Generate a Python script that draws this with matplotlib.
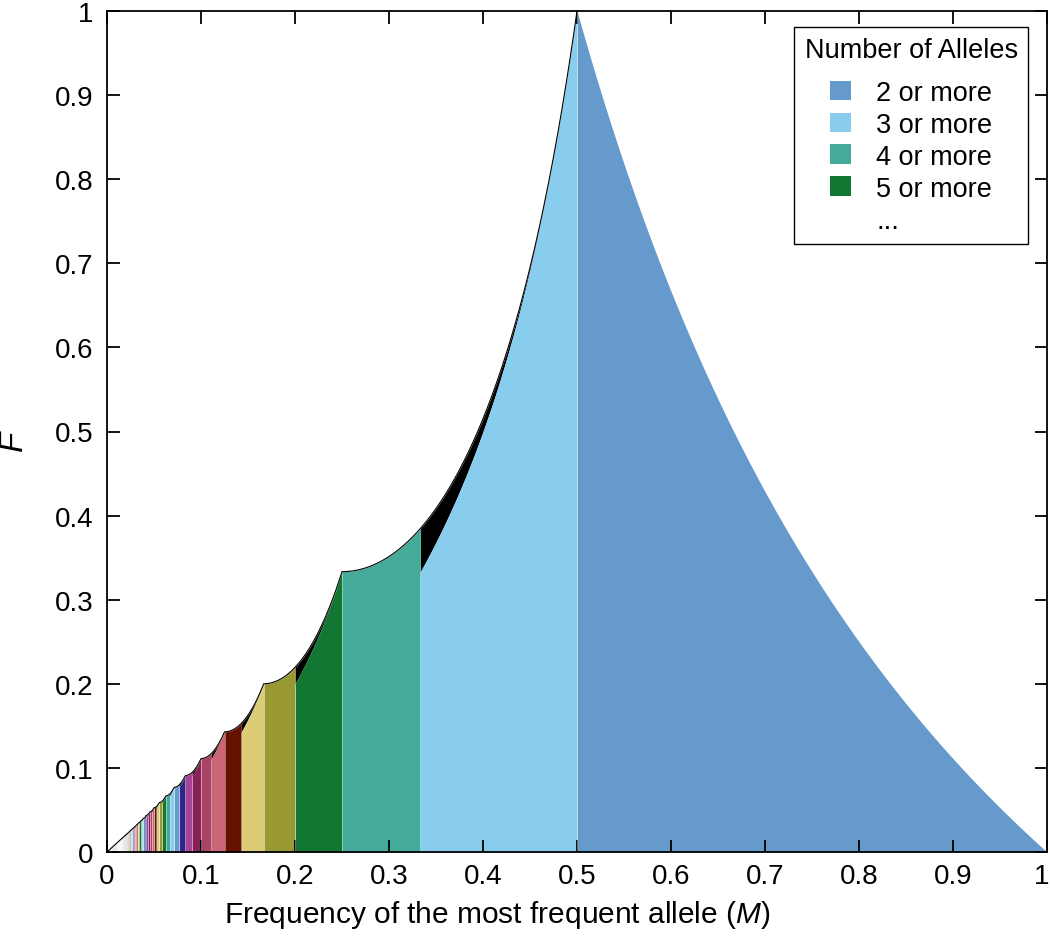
import numpy as np
import matplotlib
matplotlib.use("Agg")
import matplotlib.pyplot as plt
import matplotlib.transforms as mtransforms
from matplotlib.patches import Patch

plt.rcParams['font.family'] = ['Liberation Sans', 'DejaVu Sans']
plt.rcParams['mathtext.fontset'] = 'custom'
plt.rcParams['mathtext.rm'] = 'Liberation Sans'
plt.rcParams['mathtext.it'] = 'Liberation Sans:italic'

# number of alleles K -> region M in [1/K, 1/(K-1)]
alleles = list(range(2, 91))
palette = ['#6699CC', '#88CCEE', '#44AA99', '#117733', '#999933', '#DDCC77',
           '#661100', '#CC6677', '#AA4466', '#882255', '#AA4499', '#332288']
legend_labels = ['2 or more', '3 or more', '4 or more', '5 or more']
tick_vals = [0, 0.1, 0.2, 0.3, 0.4, 0.5, 0.6, 0.7, 0.8, 0.9, 1]
tick_labels = ['0', '0.1', '0.2', '0.3', '0.4', '0.5', '0.6', '0.7', '0.8', '0.9', '1']


def upper_bound(m, k, envelope=False):
    # maximal F for frequency m of most frequent allele, in region of k alleles
    if k == 2:
        return (1 - m) / m
    if k % 2 == 0:
        n = k // 2 - 1
        r = 1 - 2 * n * m
        num = 2 * n * m ** 2 + r ** 2 / 2
        return num / (1 - num)
    n = (k - 1) // 2
    r = 1 - 2 * n * m
    if envelope:
        num = 2 * n * m ** 2 + r ** 2 / 2
        return num / (1 - num)
    num = 2 * n * m ** 2
    return num / (1 - num - r ** 2)


fig = plt.figure(figsize=(10.5, 9.53), dpi=100)
ax = fig.add_axes([107 / 1050, 1 - 853 / 953, 940 / 1050, 841 / 953])

env_m, env_f = [], []
for k in alleles:
    lo, hi = 1 / k, (1 / (k - 1) if k > 2 else 1.0)
    m = np.linspace(lo, hi, 200)
    top = upper_bound(m, k)
    env = upper_bound(m, k, envelope=True)
    col = palette[(k - 2) % len(palette)]
    ax.fill_between(m, top, env, color='black', lw=0)
    ax.fill_between(m, 0, top, color=col, lw=0)
    ax.vlines(lo, 0, top[0], color='white', lw=0.5, alpha=0.55)
    if k > 2:
        env_m.append(m)
        env_f.append(env)

env_m = np.concatenate(env_m[::-1])
env_f = np.concatenate(env_f[::-1])
ax.fill_between([0, env_m[0]], [0, 0], [0, env_f[0]], color='#efe6ec', lw=0)
ax.plot(np.r_[0, env_m], np.r_[0, env_f], color='black', lw=0.8)

ax.set_xlim(0, 1)
ax.set_ylim(0, 1)
ax.set_xticks(tick_vals)
ax.set_xticklabels(tick_labels)
ax.set_yticks(tick_vals)
ax.set_yticklabels(tick_labels)
ax.tick_params(direction='in', length=9, width=1.3, labelsize=20, top=True, right=True)
ax.tick_params(axis='x', pad=8)
ax.tick_params(axis='y', pad=10)
for s in ax.spines.values():
    s.set_linewidth(1.3)

# keep the last x tick label inside the canvas
last = ax.get_xticklabels()[-1]
last.set_transform(last.get_transform() + mtransforms.ScaledTranslation(-4 / 72, 0, fig.dpi_scale_trans))

ax.set_xlabel('Frequency of the most frequent allele ($M$)', fontsize=21.5)
ax.xaxis.set_label_coords(0.415, -0.055)
ax.set_ylabel('F', fontsize=24, style='italic')
ax.yaxis.set_label_coords(-0.083, 0.49)

handles = [Patch(facecolor=palette[i], edgecolor='none') for i in range(4)]
handles.append(Patch(facecolor='none', edgecolor='none'))
leg = ax.legend(handles, legend_labels + ['...'], title='Number of Alleles',
                loc='upper right', bbox_to_anchor=(0.98, 0.981), borderaxespad=0,
                fontsize=19.5, title_fontsize=19.5, fancybox=False, framealpha=1,
                edgecolor='black', handlelength=0.75, handleheight=0.75,
                handletextpad=0.95, labelspacing=0.22, borderpad=0.38)
leg.get_frame().set_linewidth(1.0)
leg._legend_box.sep = 12

fig.savefig('out.png', dpi=100)
